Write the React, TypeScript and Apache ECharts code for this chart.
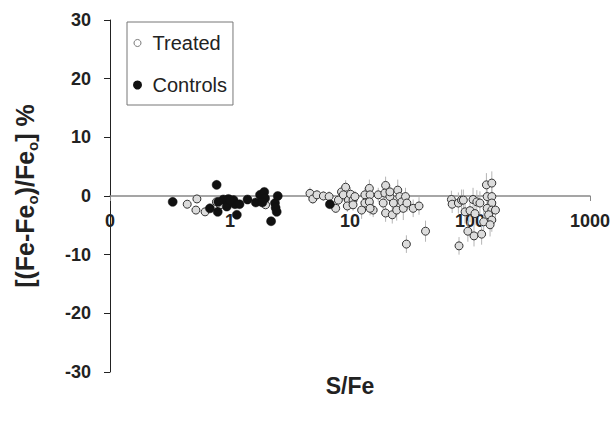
import React, { useEffect, useRef } from "react";
import * as echarts from "echarts";

// Treated samples: S/Fe ratio, % change, error half-length
const treatedX = [
  0.44, 0.53, 0.52, 0.62, 0.77, 0.83, 0.92, 1.98,
  4.64, 4.9, 5.3, 6.0, 6.7, 7.6, 8.0, 8.5, 9.2, 8.8, 9.7, 9.5, 10.1, 10.6, 11.0, 10.6,
  12.5, 13.3, 13.3, 14.5, 14.7, 14.5, 15.6, 14.7, 17.2, 18.9, 19.8, 19.5, 19.8, 21.5,
  22.5, 21.5, 23, 25, 24.5, 26, 27, 27.8, 29, 29.8, 29.5, 33.6, 37.6, 42.6,
  70, 71, 80, 85, 88, 91, 81, 96, 100, 106, 110, 114, 121, 108, 125, 137, 152, 139,
  152, 152, 139, 152, 143, 152, 130, 147, 163,
];
const treatedY = [
  -1.4, -0.5, -2.4, -2.7, -1.0, -1.5, -0.8, -1.5,
  0.45, -0.5, 0.2, 0.0, -0.1, -2.1, -0.7, 0.7, 1.5, 0.2, -0.7, -1.7, 0.3, -0.7, -0.1, -1.5,
  -2.4, 0.2, -1.2, 1.3, 0.2, -1.0, -2.4, -2.1, 0.2, -1.2, 1.8, 0.5, -2.9, -0.1,
  -3.2, 0.7, -1.2, 1.0, -2.4, -0.1, -1.0, -2.1, -0.1, -1.2, -8.2, -2.1, -1.7, -6.0,
  -0.6, -1.4, -1.2, -0.7, -0.7, -2.7, -8.5, -6.0, -2.5, -0.6, -3.0, -1.0, -1.2, -6.8, -6.5, 1.9, 2.2, -0.1,
  -0.1, -1.2, -2.1, -2.4, -3.2, -4.1, -4.4, -4.9, -2.4,
];
const treatedErr = [
  0.6, 0.7, 0.6, 0.6, 0.5, 0.5, 0.5, 0.6,
  1.0, 0.8, 0.8, 0.8, 0.9, 0.8, 1.0, 1.0, 1.2, 1.0, 1.0, 1.0, 1.2, 1.0, 1.0, 1.0,
  1.5, 1.2, 1.0, 1.5, 1.2, 1.2, 1.2, 1.2, 1.2, 1.2, 1.5, 1.2, 1.5, 1.2,
  1.5, 1.2, 1.5, 1.8, 1.8, 1.5, 1.5, 2.0, 1.5, 1.5, 1.5, 1.5, 1.5, 1.8,
  1.5, 1.5, 1.8, 1.8, 1.8, 2.0, 1.5, 1.8, 2.0, 2.0, 2.0, 2.0, 2.0, 1.8, 1.8, 2.0, 2.0, 2.0,
  2.0, 2.0, 2.0, 2.0, 2.0, 2.0, 2.0, 2.0, 1.5,
];

// Control samples
const controlX = [
  0.333, 0.774, 0.68, 0.79, 0.88, 0.94, 1.07, 1.1, 1.14, 1.2, 1.4, 1.64, 1.78, 1.93,
  1.96, 1.86, 2.2, 2.37, 2.5, 2.45, 2.4, 6.8, 0.8, 0.97, 1.0,
];
const controlY = [
  -1.0, 1.9, -2.1, -2.7, -0.6, -1.8, -0.7, -1.4, -3.2, -1.4, -0.6, -1.1, 0.2, 0.7,
  -0.4, -1.1, -4.3, -1.2, 0.0, -2.7, -2.0, -1.4, -1.0, -0.5, -0.7,
];
const controlErr = [
  0.5, 0.8, 0.5, 0.5, 0.5, 0.5, 0.5, 0.5, 0.5, 0.5, 0.7, 0.6, 0.7, 0.8,
  0.6, 0.6, 0.7, 0.6, 0.7, 0.6, 0.6, 0.5, 0.5, 0.5, 0.5,
];

const yTicks = [-30, -20, -10, 0, 10, 20, 30];

const FONT = "'Liberation Sans', Arial, sans-serif";

const GRID_TOP = 20;
const GRID_BOTTOM = 51;
const H = 423;

export default function App() {
  const ref = useRef<HTMLDivElement>(null);
  useEffect(() => {
    if (!ref.current) return;
    const chart = echarts.init(ref.current, null, { renderer: "svg" });
    const tData = treatedX.map((x, i) => [x, treatedY[i], treatedErr[i]]);
    const cData = controlX.map((x, i) => [x, controlY[i], controlErr[i]]);
    const yMin = yTicks[0];
    const yMax = yTicks[yTicks.length - 1];
    const plotH = H - GRID_TOP - GRID_BOTTOM;
    const zeroOffset = -(plotH * (0 - yMin)) / (yMax - yMin);
    const errRender = (params: any, api: any) => {
      const x = api.value(0);
      const y = api.value(1);
      const e = api.value(2);
      const p1 = api.coord([x, y + e]);
      const p2 = api.coord([x, y - e]);
      return {
        type: "line",
        shape: { x1: p1[0], y1: p1[1], x2: p2[0], y2: p2[1] },
        style: { stroke: "#b5b5b5", lineWidth: 1 },
      };
    };
    chart.setOption({
      animation: false,
      backgroundColor: "#fff",
      textStyle: { fontFamily: FONT },
      grid: { left: 110, right: 25, top: GRID_TOP, bottom: GRID_BOTTOM },
      legend: {
        orient: "vertical",
        left: 127,
        top: 22,
        padding: [11, 6, 10, 6],
        itemGap: 22,
        itemWidth: 20,
        itemHeight: 7,
        borderColor: "#777",
        borderWidth: 1,
        textStyle: { fontSize: 20, color: "#222", fontFamily: FONT },
        data: [
          {
            name: "Treated",
            icon: "circle",
            itemStyle: { color: "#fff", borderColor: "#777", borderWidth: 1 },
          },
          { name: "Controls", icon: "circle", itemStyle: { color: "#111" } },
        ],
      },
      xAxis: {
        type: "log",
        logBase: 10,
        min: 0.1,
        max: 1000,
        position: "bottom",
        offset: zeroOffset,
        splitLine: { show: false },
        axisLine: { onZero: false, lineStyle: { color: "#888", width: 1.5 } },
        axisTick: { show: true, length: 5, lineStyle: { color: "#888" } },
        axisLabel: {
          margin: 16,
          fontSize: 18,
          fontWeight: "bold",
          color: "#222",
          fontFamily: FONT,
          showMinLabel: true,
          showMaxLabel: true,
          formatter: (v: number) => (v < 0.99 ? "0" : String(Math.round(v))),
        },
      },
      yAxis: {
        type: "value",
        min: yMin,
        max: yMax,
        interval: 10,
        splitLine: { show: false },
        axisLine: { show: true, onZero: false, lineStyle: { color: "#222", width: 1 } },
        axisTick: { show: true, length: 6, lineStyle: { color: "#222" } },
        axisLabel: {
          margin: 19,
          fontSize: 18,
          fontWeight: "bold",
          color: "#222",
          fontFamily: FONT,
        },
      },
      graphic: [
        {
          type: "text",
          x: 25,
          y: 196,
          rotation: Math.PI / 2,
          style: {
            text: "{b|[(Fe-Fe}{s|o}{b|)/Fe}{s|o}{b|] %}",
            align: "center",
            verticalAlign: "middle",
            rich: {
              b: { fontSize: 25, fontWeight: "bold", fontFamily: FONT, fill: "#222", lineHeight: 30 },
              s: {
                fontSize: 15,
                fontWeight: "bold",
                fontFamily: FONT,
                fill: "#222",
                lineHeight: 14,
                verticalAlign: "bottom",
              },
            },
          },
        },
        {
          type: "text",
          x: 350,
          y: 386,
          style: {
            text: "S/Fe",
            align: "center",
            verticalAlign: "middle",
            fontSize: 23,
            fontWeight: "bold",
            fontFamily: FONT,
            fill: "#222",
          },
        },
      ],
      series: [
        {
          name: "treatedErr",
          type: "custom",
          renderItem: errRender,
          encode: { x: 0, y: 1 },
          data: tData,
          silent: true,
          z: 1,
        },
        {
          name: "controlErr",
          type: "custom",
          renderItem: errRender,
          encode: { x: 0, y: 1 },
          data: cData,
          silent: true,
          z: 1,
        },
        {
          name: "Treated",
          type: "scatter",
          symbol: "circle",
          symbolSize: 8,
          data: tData.map((d) => [d[0], d[1]]),
          itemStyle: { color: "#dcdcdc", borderColor: "#333", borderWidth: 1, opacity: 1 },
          z: 2,
        },
        {
          name: "Controls",
          type: "scatter",
          symbol: "circle",
          symbolSize: 9,
          data: cData.map((d) => [d[0], d[1]]),
          itemStyle: { color: "#111", borderColor: "#111", borderWidth: 0.5, opacity: 1 },
          z: 3,
        },
      ],
    });
    return () => chart.dispose();
  }, []);
  return <div ref={ref} style={{ width: 615, height: 423, position: "absolute", left: 0, top: 0 }} />;
}
